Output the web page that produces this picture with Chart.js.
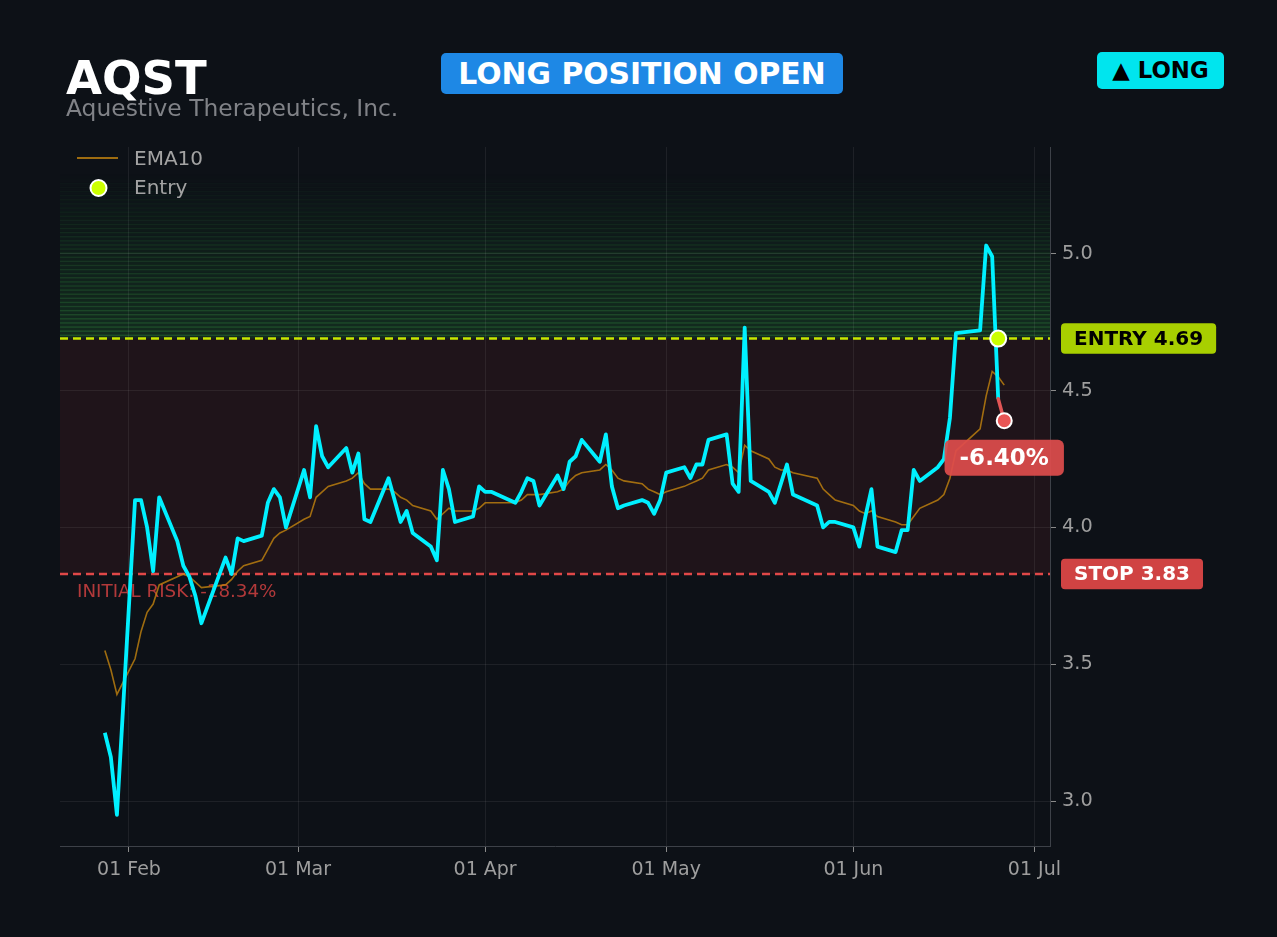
<!DOCTYPE html>
<html>
<head>
<meta charset="utf-8">
<script src="https://cdn.jsdelivr.net/npm/chart.js@4.4.0/dist/chart.umd.min.js"></script>
<style>
html,body{margin:0;padding:0;background:#0d1117;width:1277px;height:937px;overflow:hidden;font-family:"DejaVu Sans",sans-serif;}
#wrap{position:relative;width:1277px;height:937px;}
canvas{position:absolute;left:0;top:0;}
.t{position:absolute;white-space:nowrap;line-height:1;}
.badge{position:absolute;display:flex;align-items:center;justify-content:center;border-radius:5px;font-weight:bold;line-height:1;white-space:nowrap;}
</style>
</head>
<body>
<div id="wrap">
<canvas id="c" width="1277" height="937"></canvas>
<div class="t" style="left:66px;top:55px;font-size:46.5px;font-weight:bold;color:#ffffff;">AQST</div>
<div class="t" style="left:66px;top:97px;font-size:23.4px;color:#808287;">Aquestive Therapeutics, Inc.</div>
<div class="badge" style="left:441px;top:53px;width:402px;height:41px;background:#1e88e5;color:#ffffff;font-size:29.8px;">LONG POSITION OPEN</div>
<div class="badge" style="left:1097px;top:52px;width:127px;height:37px;background:#00e5ee;color:#000000;font-size:22.8px;">▲ LONG</div>
</div>
<script>
// ---------- data ----------
const dates = [
"2026-01-28","2026-01-29","2026-01-30",
"2026-02-02","2026-02-03","2026-02-04","2026-02-05","2026-02-06",
"2026-02-09","2026-02-10","2026-02-11","2026-02-12","2026-02-13",
"2026-02-17","2026-02-18","2026-02-19","2026-02-20",
"2026-02-23","2026-02-24","2026-02-25","2026-02-26","2026-02-27",
"2026-03-02","2026-03-03","2026-03-04","2026-03-05","2026-03-06",
"2026-03-09","2026-03-10","2026-03-11","2026-03-12","2026-03-13",
"2026-03-16","2026-03-17","2026-03-18","2026-03-19","2026-03-20",
"2026-03-23","2026-03-24","2026-03-25","2026-03-26","2026-03-27",
"2026-03-30","2026-03-31","2026-04-01","2026-04-02",
"2026-04-06","2026-04-07","2026-04-08","2026-04-09","2026-04-10",
"2026-04-13","2026-04-14","2026-04-15","2026-04-16","2026-04-17",
"2026-04-20","2026-04-21","2026-04-22","2026-04-23","2026-04-24",
"2026-04-27","2026-04-28","2026-04-29","2026-04-30","2026-05-01",
"2026-05-04","2026-05-05","2026-05-06","2026-05-07","2026-05-08",
"2026-05-11","2026-05-12","2026-05-13","2026-05-14","2026-05-15",
"2026-05-18","2026-05-19","2026-05-20","2026-05-21","2026-05-22",
"2026-05-26","2026-05-27","2026-05-28","2026-05-29",
"2026-06-01","2026-06-02","2026-06-03","2026-06-04","2026-06-05",
"2026-06-08","2026-06-09","2026-06-10","2026-06-11","2026-06-12",
"2026-06-15","2026-06-16","2026-06-17","2026-06-18",
"2026-06-22","2026-06-23","2026-06-24","2026-06-25","2026-06-26"
];
const closes = [
3.25,3.16,2.95,
4.10,4.10,4.00,3.84,4.11,
3.95,3.86,3.82,3.75,3.65,
3.89,3.83,3.96,3.95,
3.97,4.09,4.14,4.11,4.00,
4.21,4.11,4.37,4.26,4.22,
4.29,4.20,4.27,4.03,4.02,
4.18,4.10,4.02,4.06,3.98,
3.93,3.88,4.21,4.14,4.02,
4.04,4.15,4.13,4.13,
4.09,4.13,4.18,4.17,4.08,
4.19,4.14,4.24,4.26,4.32,
4.24,4.34,4.15,4.07,4.08,
4.10,4.09,4.05,4.10,4.20,
4.22,4.18,4.23,4.23,4.32,
4.34,4.16,4.13,4.73,4.17,
4.13,4.09,4.16,4.23,4.12,
4.08,4.00,4.02,4.02,
4.00,3.93,4.04,4.14,3.93,
3.91,3.99,3.99,4.21,4.17,
4.22,4.25,4.40,4.71,
4.72,5.03,4.99,4.47,4.39
];
const ema10 = [
3.55,3.48,3.39,
3.52,3.62,3.69,3.72,3.79,
3.82,3.83,3.82,3.80,3.78,
3.79,3.81,3.84,3.86,
3.88,3.92,3.96,3.98,3.99,
4.03,4.04,4.11,4.13,4.15,
4.17,4.18,4.20,4.16,4.14,
4.14,4.13,4.11,4.10,4.08,
4.06,4.03,4.05,4.07,4.06,
4.06,4.07,4.09,4.09,
4.09,4.10,4.12,4.12,4.12,
4.13,4.14,4.17,4.19,4.20,
4.21,4.23,4.21,4.18,4.17,
4.16,4.14,4.13,4.12,4.13,
4.15,4.16,4.17,4.18,4.21,
4.23,4.22,4.20,4.30,4.28,
4.25,4.22,4.21,4.21,4.20,
4.18,4.14,4.12,4.10,
4.08,4.06,4.05,4.06,4.04,
4.02,4.01,4.01,4.04,4.07,
4.10,4.12,4.18,4.28,
4.36,4.48,4.57,4.55,4.52
];
const entryDate = "2026-06-25";
const entryPrice = 4.69;
const stopPrice = 3.83;
const pnlText = "-6.40%";
const riskText = "INITIAL RISK: -18.34%";
const xTickDates = ["2026-02-01","2026-03-01","2026-04-01","2026-05-01","2026-06-01","2026-07-01"];
const xTickLabels = ["01 Feb","01 Mar","01 Apr","01 May","01 Jun","01 Jul"];
const yTickValues = [3.0,3.5,4.0,4.5,5.0];

// ---------- helpers ----------
const DAY0 = Date.UTC(2026,1,1);
function dayNum(s){const p=s.split('-').map(Number);return (Date.UTC(p[0],p[1]-1,p[2])-DAY0)/86400000;}
const FONT = '"DejaVu Sans", sans-serif';
function rr(ctx,x,y,w,h,r){ctx.beginPath();ctx.moveTo(x+r,y);ctx.arcTo(x+w,y,x+w,y+h,r);ctx.arcTo(x+w,y+h,x,y+h,r);ctx.arcTo(x,y+h,x,y,r);ctx.arcTo(x,y,x+w,y,r);ctx.closePath();}

const n = dates.length;
const pricePts = dates.slice(0,n-1).map((d,i)=>({x:dayNum(d),y:closes[i]}));
const tailPts = [n-2,n-1].map(i=>({x:dayNum(dates[i]),y:closes[i]}));
const emaPts = dates.map((d,i)=>({x:dayNum(d),y:ema10[i]}));
const entryPts = [{x:dayNum(entryDate),y:entryPrice}];

const EMA_COLOR = 'rgba(200,134,14,0.78)';
const ENTRY_COLOR = '#ccff00';

const deco = {
  id:'deco',
  beforeDraw(chart){
    const {ctx, chartArea:a, scales:{y}} = chart;
    ctx.save();
    const ye = y.getPixelForValue(entryPrice), ys = y.getPixelForValue(stopPrice);
    ctx.fillStyle='rgba(255,68,68,0.075)';
    ctx.fillRect(a.left, ye, a.right-a.left, ys-ye);
    const N=40, step=0.015;
    for(let i=0;i<N;i++){
      const f=1-i/N;
      const y0=y.getPixelForValue(entryPrice+i*step), y1=y.getPixelForValue(entryPrice+(i+1)*step);
      ctx.fillStyle=`rgba(46,160,67,${(0.19*f).toFixed(3)})`;
      ctx.fillRect(a.left,y1,a.right-a.left,y0-y1);
      ctx.fillStyle=`rgba(70,190,80,${(0.24*f).toFixed(3)})`;
      ctx.fillRect(a.left,y1,a.right-a.left,1.5);
    }
    ctx.restore();
  },
  beforeDatasetsDraw(chart){
    const {ctx, chartArea:a, scales:{y}} = chart;
    ctx.save();
    ctx.lineWidth=2.5;
    ctx.setLineDash([8,5]);
    let yy=y.getPixelForValue(entryPrice);
    ctx.strokeStyle='#c8e600';
    ctx.beginPath();ctx.moveTo(a.left,yy);ctx.lineTo(a.right,yy);ctx.stroke();
    yy=y.getPixelForValue(stopPrice);
    ctx.strokeStyle='#e04848';
    ctx.beginPath();ctx.moveTo(a.left,yy);ctx.lineTo(a.right,yy);ctx.stroke();
    ctx.setLineDash([]);
    ctx.font='18.3px '+FONT;
    ctx.fillStyle='rgba(214,66,66,0.82)';
    ctx.textBaseline='alphabetic';
    ctx.textAlign='left';
    ctx.fillText(riskText, a.left+17, yy+23.5);
    ctx.restore();
  },
  afterDatasetsDraw(chart){
    const {ctx, scales:{x,y}} = chart;
    ctx.save();
    const px=x.getPixelForValue(dayNum(dates[n-1])), py=y.getPixelForValue(closes[n-1]);
    ctx.font='bold 23px '+FONT;
    const w=ctx.measureText(pnlText).width+30, h=36;
    const cy=py+37;
    rr(ctx,px-w/2,cy-h/2,w,h,6);
    ctx.fillStyle='rgba(222,76,76,0.93)';
    ctx.fill();
    ctx.fillStyle='#ffffff';
    ctx.textAlign='center';ctx.textBaseline='middle';
    ctx.fillText(pnlText,px,cy+1);
    ctx.restore();
  },
  afterDraw(chart){
    const {ctx, chartArea:a, scales:{y}} = chart;
    ctx.save();
    ctx.font='bold 20px '+FONT;
    ctx.textAlign='left';ctx.textBaseline='middle';
    const badges=[
      {t:'ENTRY '+entryPrice.toFixed(2), v:entryPrice, bg:'#a8cf00', fg:'#000000'},
      {t:'STOP '+stopPrice.toFixed(2), v:stopPrice, bg:'#d04343', fg:'#ffffff'}
    ];
    badges.forEach(b=>{
      const yy=y.getPixelForValue(b.v);
      const w=ctx.measureText(b.t).width+26, h=30.5;
      rr(ctx,a.right+11,yy-h/2,w,h,4);
      ctx.fillStyle=b.bg;ctx.fill();
      ctx.fillStyle=b.fg;
      ctx.fillText(b.t,a.right+24,yy+1);
    });
    ctx.strokeStyle=EMA_COLOR;ctx.lineWidth=1.8;
    ctx.beginPath();ctx.moveTo(a.left+17,158);ctx.lineTo(a.left+58,158);ctx.stroke();
    ctx.beginPath();ctx.arc(a.left+38.5,188,8,0,Math.PI*2);
    ctx.fillStyle=ENTRY_COLOR;ctx.fill();
    ctx.strokeStyle='#ffffff';ctx.lineWidth=2;ctx.stroke();
    ctx.font='20px '+FONT;
    ctx.fillStyle='#a3a3a3';
    ctx.textBaseline='alphabetic';
    ctx.fillText('EMA10',a.left+74,165.3);
    ctx.fillText('Entry',a.left+74,194.3);
    ctx.restore();
  }
};

new Chart(document.getElementById('c'),{
  type:'line',
  data:{datasets:[
    {label:'Entry', type:'scatter', data:entryPts, pointRadius:8, pointBackgroundColor:ENTRY_COLOR, pointBorderColor:'#ffffff', pointBorderWidth:2, showLine:false},
    {label:'Now', data:tailPts, borderColor:'#e05555', borderWidth:3.5, pointRadius:[0,7.5], pointBackgroundColor:'#e85555', pointBorderColor:'#ffffff', pointBorderWidth:2, tension:0, borderJoinStyle:'round', borderCapStyle:'round'},
    {label:'Price', data:pricePts, borderColor:'#00f0ff', borderWidth:3.8, pointRadius:0, tension:0, borderJoinStyle:'round'},
    {label:'EMA10', data:emaPts, borderColor:EMA_COLOR, borderWidth:1.6, pointRadius:0, tension:0}
  ]},
  options:{
    responsive:false, devicePixelRatio:1, animation:false, events:[],
    layout:{padding:{left:60,top:147,right:0,bottom:0}},
    plugins:{legend:{display:false},tooltip:{enabled:false},title:{display:false}},
    scales:{
      x:{type:'linear', min:-11.43, max:152.58,
        afterBuildTicks:s=>{s.ticks=xTickDates.map(d=>({value:dayNum(d)}));},
        afterFit:s=>{s.height=91;},
        ticks:{callback:(v,i)=>xTickLabels[i], color:'#9e9e9e', font:{family:'DejaVu Sans',size:19}, padding:6.5, maxRotation:0, autoSkip:false},
        grid:{color:'rgba(255,255,255,0.07)', tickColor:'#8a8a8a', tickLength:6, lineWidth:1},
        border:{color:'#3d4148', width:1}
      },
      y:{type:'linear', position:'right', min:2.836, max:5.39,
        afterBuildTicks:s=>{s.ticks=yTickValues.map(v=>({value:v}));},
        afterFit:s=>{s.width=227;},
        ticks:{callback:v=>Number(v).toFixed(1), color:'#9e9e9e', font:{family:'DejaVu Sans',size:19.3}, padding:6},
        grid:{color:'rgba(255,255,255,0.07)', tickColor:'#8a8a8a', tickLength:6, lineWidth:1},
        border:{color:'#3d4148', width:1}
      }
    }
  },
  plugins:[deco]
});
</script>
</body>
</html>
